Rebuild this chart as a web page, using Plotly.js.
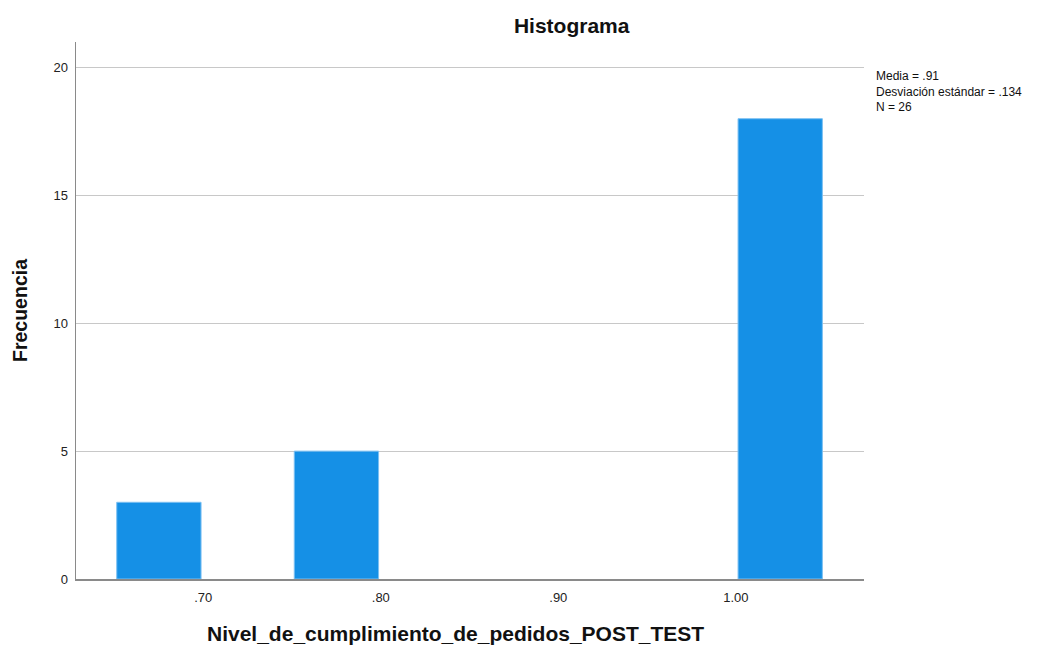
<!DOCTYPE html>
<html>
<head>
<meta charset="utf-8">
<script src="https://cdn.plot.ly/plotly-3.0.1.min.js"></script>
<style>html,body{margin:0;padding:0;background:#fff;}#chart{width:1061px;height:649px;}</style>
</head>
<body>
<div id="chart"></div>
<script>
// Bin centers (bin width 0.05) and frequencies
const binCenters = [0.675, 0.775, 1.025];
const frequencies = [3, 5, 18];
const tickValues = [0.70, 0.80, 0.90, 1.00];
const tickLabels = ['.70', '.80', '.90', '1.00'];
const statsLines = ['Media = .91', 'Desviación estándar = .134', 'N = 26'];
const xTitle = 'Nivel_de_cumplimiento_de_pedidos_POST_TEST';

const trace = {
  type: 'bar',
  x: binCenters,
  y: frequencies,
  width: 0.0475,
  marker: {color: '#1590e6', line: {color: '#7cc0f2', width: 1}},
  hoverinfo: 'x+y'
};

const layout = {
  width: 1061, height: 649,
  margin: {l: 76, r: 197, t: 42, b: 70},
  paper_bgcolor: '#ffffff', plot_bgcolor: '#ffffff',
  font: {family: 'Liberation Sans, Arial, sans-serif', color: '#222'},
  title: {text: '<b>Histograma</b>', font: {size: 21, color: '#111'}, xref: 'paper', x: 0.629, xanchor: 'center', y: 0.96, yanchor: 'middle'},
  showlegend: false,
  bargap: 0,
  xaxis: {
    range: [0.6283, 1.0722],
    tickvals: tickValues, ticktext: tickLabels,
    showgrid: false, zeroline: false,
    showline: true, linecolor: '#8a8a8a', linewidth: 1.5,
    ticks: '', tickfont: {size: 13, color: '#222'},
    ticklabelstandoff: 6
  },
  yaxis: {
    range: [0, 21],
    tickvals: [0, 5, 10, 15, 20],
    showgrid: true, gridcolor: '#c8c8c8', gridwidth: 1,
    zeroline: false,
    showline: true, linecolor: '#8a8a8a', linewidth: 1.5,
    ticks: '', tickfont: {size: 13, color: '#222'},
    ticklabelstandoff: 4,
    title: {text: '<b>Frecuencia</b>', font: {size: 19.5, color: '#111'}, standoff: 20}
  },
  annotations: [{
    xref: 'paper', yref: 'paper', x: 1.0127, y: 0.9535,
    xanchor: 'left', yanchor: 'top', align: 'left', showarrow: false,
    text: statsLines.join('<br>'),
    font: {size: 12, color: '#111'}
  }, {
    xref: 'paper', yref: 'paper', x: (455 - 76) / 788, y: -0.101,
    xanchor: 'center', yanchor: 'middle', showarrow: false,
    text: '<b>' + xTitle + '</b>',
    font: {size: 21, color: '#111'}
  }]
};

Plotly.newPlot('chart', [trace], layout, {displayModeBar: false, staticPlot: true});
</script>
</body>
</html>
